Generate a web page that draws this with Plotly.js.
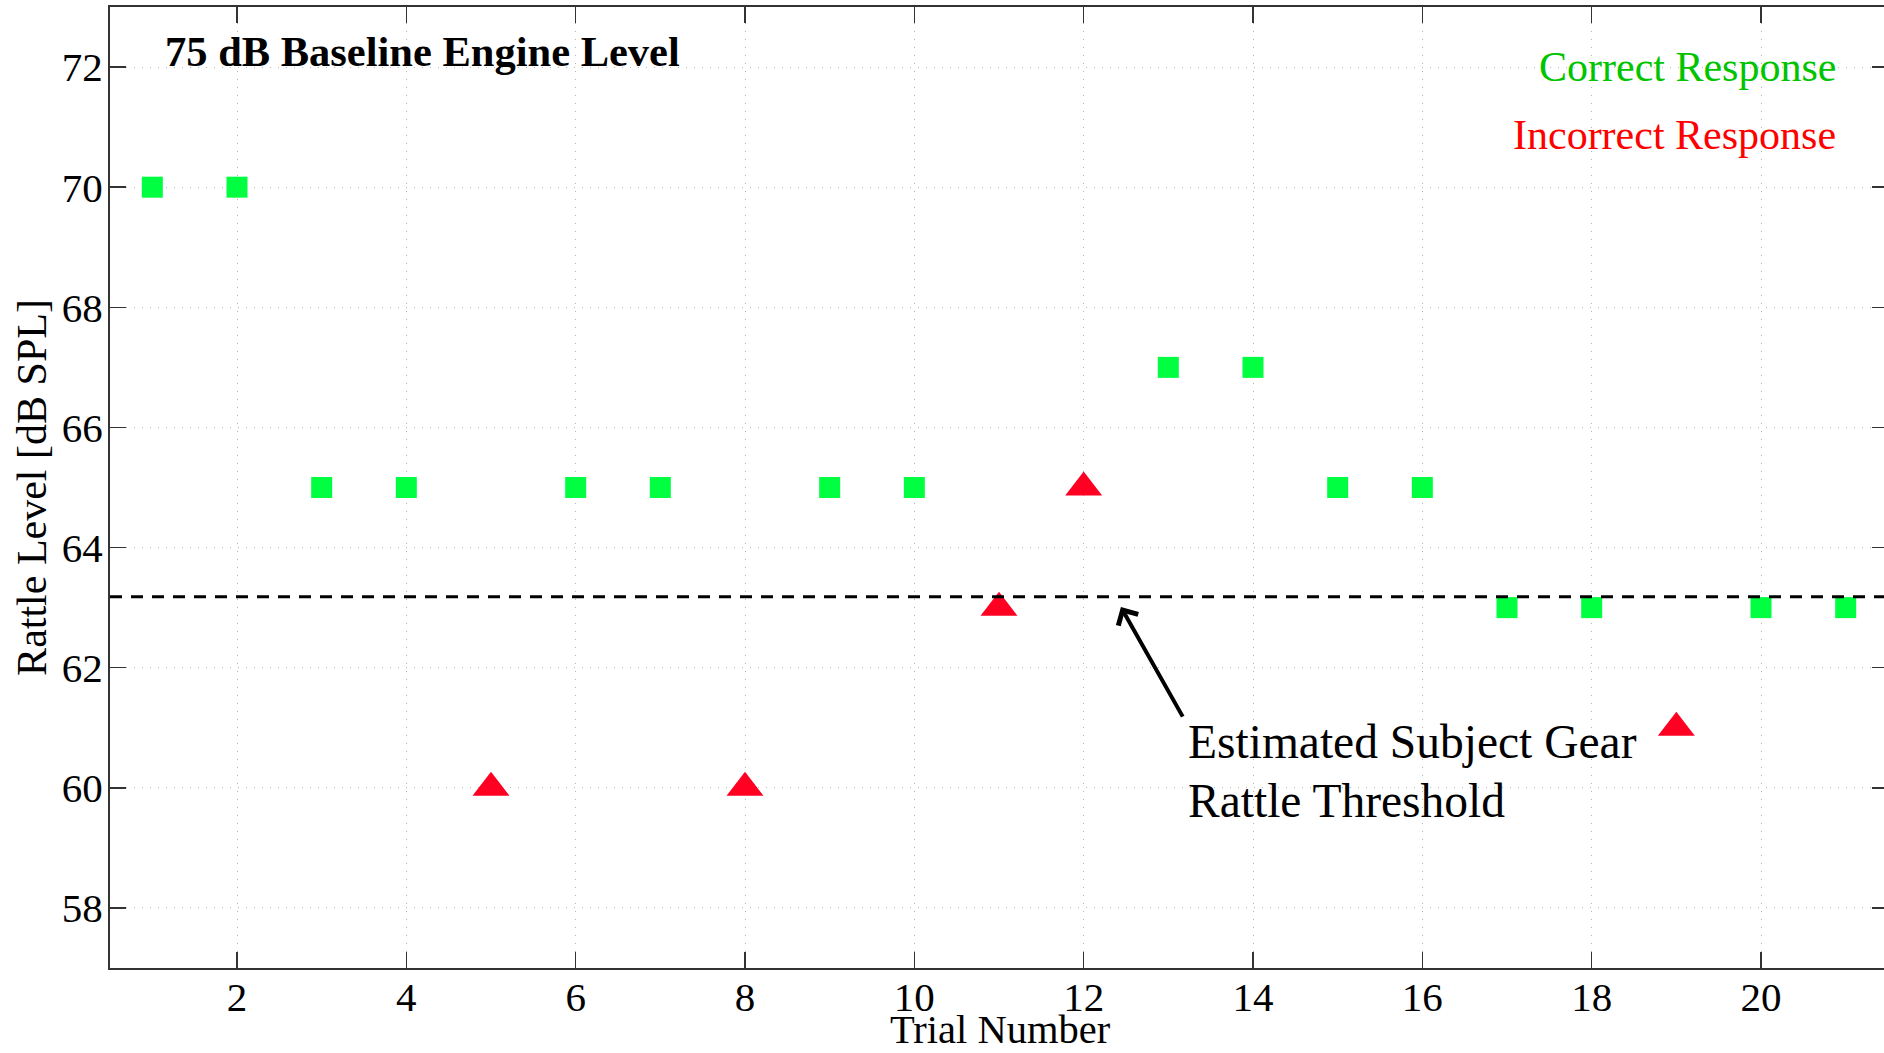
<!DOCTYPE html>
<html>
<head>
<meta charset="utf-8">
<script src="https://cdn.plot.ly/plotly-3.0.1.min.js"></script>
<style>
html, body { margin: 0; padding: 0; overflow: hidden; background: #fff; }
#chart { width: 1889px; height: 1053px; }
</style>
</head>
<body>
<div id="chart"></div>
<script>
// ---- data ----
const correctTrials = [1, 2, 3, 4, 6, 7, 9, 10, 13, 14, 15, 16, 17, 18, 20, 21];
const correctLevels = [70, 70, 65, 65, 65, 65, 65, 65, 67, 67, 65, 65, 63, 63, 63, 63];
const incorrectTrials = [5, 8, 11, 12, 19];
const incorrectLevels = [60, 60, 63, 65, 61];
const thresholdLevel = 63.18;
const xTickVals = [2, 4, 6, 8, 10, 12, 14, 16, 18, 20];
const yTickVals = [58, 60, 62, 64, 66, 68, 70, 72];

const serif = 'Liberation Serif, Times New Roman, serif';

const traces = [
  {
    x: correctTrials, y: correctLevels, type: 'scatter', mode: 'markers',
    name: 'Correct Response',
    marker: { symbol: 'square', size: 21, color: '#00ff40', line: { width: 0 } }
  },
  {
    x: incorrectTrials, y: incorrectLevels, type: 'scatter', mode: 'markers',
    name: 'Incorrect Response',
    marker: { symbol: 'triangle-up', size: 32, color: '#ff0022', line: { width: 0 } }
  }
];

const axisCommon = {
  showline: true, linecolor: '#333', linewidth: 2, mirror: 'ticks',
  ticks: 'inside', ticklen: 16, tickwidth: 1.5, tickcolor: '#333',
  showgrid: true, gridcolor: '#b5b5b5', gridwidth: 1, griddash: '1px,7px',
  zeroline: false,
  tickfont: { family: serif, size: 41, color: '#000' }
};

const layout = {
  width: 1889, height: 1053,
  margin: { l: 110, r: 1, t: 7, b: 85 },
  paper_bgcolor: '#fff', plot_bgcolor: '#fff',
  showlegend: false,
  font: { family: serif, color: '#000' },
  xaxis: Object.assign({}, axisCommon, {
    range: [0.5, 21.5], tickvals: xTickVals, ticktext: xTickVals.map(String),
    ticklabelstandoff: -8,
    automargin: false
  }),
  yaxis: Object.assign({}, axisCommon, {
    range: [57, 73], tickvals: yTickVals, ticktext: yTickVals.map(String),
    ticklabelstandoff: -3,
    title: { text: 'Rattle Level [dB SPL]', font: { family: serif, size: 42, color: '#000' }, standoff: 2 },
    automargin: false
  }),
  shapes: [
    { type: 'line', xref: 'paper', yref: 'y', x0: 0, x1: 1, y0: thresholdLevel, y1: thresholdLevel,
      line: { color: '#000', width: 3, dash: '12px,9px' } }
  ],
  annotations: [
    { xref: 'paper', yref: 'paper', x: 0.5006, y: -0.0645, xanchor: 'center', yanchor: 'middle',
      text: 'Trial Number', showarrow: false,
      font: { family: serif, size: 40.5, color: '#000' } },
    { xref: 'paper', yref: 'paper', x: 0.0298, y: 0.954, xanchor: 'left', yanchor: 'middle',
      text: '<b>75 dB Baseline Engine Level</b>', showarrow: false,
      font: { family: serif, size: 42.5, color: '#000' } },
    { xref: 'paper', yref: 'paper', x: 0.972, y: 0.9376, xanchor: 'right', yanchor: 'middle',
      text: 'Correct Response', showarrow: false,
      font: { family: serif, size: 42, color: '#00c400' } },
    { xref: 'paper', yref: 'paper', x: 0.972, y: 0.8668, xanchor: 'right', yanchor: 'middle',
      text: 'Incorrect Response', showarrow: false,
      font: { family: serif, size: 42, color: '#ff0000' } },
    { xref: 'x', yref: 'y', x: 12.44, y: 63.01, axref: 'x', ayref: 'y', ax: 13.18, ay: 61.16,
      text: '', showarrow: true, arrowhead: 4, arrowsize: 1.1, arrowwidth: 4, arrowcolor: '#000',
      standoff: 0, startstandoff: 0 },
    { xref: 'x', yref: 'y', x: 13.21, y: 60.76, xanchor: 'left', yanchor: 'middle',
      text: 'Estimated Subject Gear', showarrow: false,
      font: { family: serif, size: 47.5, color: '#000' } },
    { xref: 'x', yref: 'y', x: 13.21, y: 59.78, xanchor: 'left', yanchor: 'middle',
      text: 'Rattle Threshold', showarrow: false,
      font: { family: serif, size: 47.5, color: '#000' } }
  ]
};

Plotly.newPlot('chart', traces, layout, { displayModeBar: false, staticPlot: true });
</script>
</body>
</html>
